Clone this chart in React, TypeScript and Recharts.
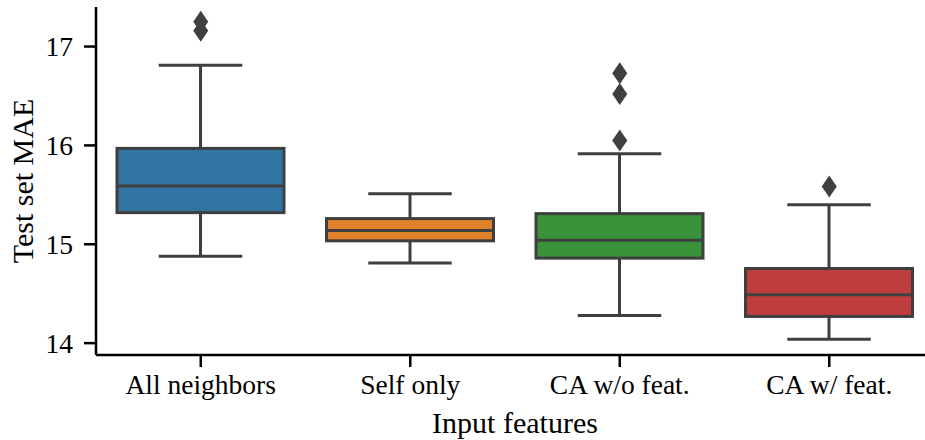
import { ComposedChart, Bar, Scatter, XAxis, YAxis } from 'recharts';

// Box statistics per input-feature setting (test set MAE)
const categories = ['All neighbors', 'Self only', 'CA w/o feat.', 'CA w/ feat.'];
const whiskerLow = [14.88, 14.81, 14.28, 14.04];
const q1 = [15.32, 15.035, 14.86, 14.27];
const medians = [15.59, 15.14, 15.04, 14.49];
const q3 = [15.97, 15.26, 15.31, 14.755];
const whiskerHigh = [16.81, 15.51, 15.915, 15.4];
const outliers = [[17.16, 17.25], [], [16.05, 16.52, 16.73], [15.585]];
const yTicks = [14, 15, 16, 17];

const palette = ['#3274a1', '#e1812c', '#3a923a', '#c03d3e'];
const LINE = '#3f3f3f';
const FONT = '"Liberation Serif", serif';
const TICK_SIZE = 27.5;
const LABEL_SIZE = 30;

const data = categories.map((name, i) => ({
  name,
  range: [whiskerLow[i], whiskerHigh[i]],
  q1: q1[i],
  median: medians[i],
  q3: q3[i],
  color: palette[i],
  out1: outliers[i][0] ?? null,
  out2: outliers[i][1] ?? null,
  out3: outliers[i][2] ?? null,
}));

// whisker-to-whisker bar; inner positions follow the same linear y scale
const BoxShape = (props: any) => {
  const { x, y, width, height, payload } = props;
  const [lo, hi] = payload.range;
  const py = (v: number) => y + ((hi - v) / (hi - lo)) * height;
  const cx = x + width / 2;
  const cap = width / 4;
  const top = py(payload.q3);
  const bottom = py(payload.q1);
  return (
    <g stroke={LINE} strokeWidth={3}>
      <line x1={cx} x2={cx} y1={py(hi)} y2={top} />
      <line x1={cx} x2={cx} y1={bottom} y2={py(lo)} />
      <line x1={cx - cap} x2={cx + cap} y1={py(hi)} y2={py(hi)} />
      <line x1={cx - cap} x2={cx + cap} y1={py(lo)} y2={py(lo)} />
      <rect x={x} y={top} width={width} height={bottom - top} fill={payload.color} />
      <line x1={x} x2={x + width} y1={py(payload.median)} y2={py(payload.median)} />
    </g>
  );
};

const Diamond = (props: any) => {
  const { cx, cy } = props;
  if (cx == null || cy == null || Number.isNaN(cy)) return <g />;
  const w = 7.5;
  const h = 11;
  return (
    <polygon
      points={`${cx},${cy - h} ${cx + w},${cy} ${cx},${cy + h} ${cx - w},${cy}`}
      fill={LINE}
    />
  );
};

export default function App() {
  return (
    <div style={{ position: 'absolute', left: 0, top: 0, width: 925, height: 440, overflow: 'hidden', background: '#fff' }}>
      <ComposedChart width={934} height={440} data={data} margin={{ top: 7, right: 0, bottom: 0, left: 0 }}>
        <XAxis
          dataKey="name"
          height={85}
          axisLine={{ stroke: '#000', strokeWidth: 2.5 }}
          tickLine={{ stroke: '#000', strokeWidth: 2.5 }}
          tickSize={12}
          tickMargin={7}
          tick={{ fill: '#000', fontSize: TICK_SIZE, fontFamily: FONT }}
          label={({ viewBox }: any) => (
            <text
              x={viewBox.x + viewBox.width / 2}
              y={viewBox.y + 78}
              textAnchor="middle"
              fill="#000"
              fontSize={LABEL_SIZE}
              fontFamily={FONT}
            >
              Input features
            </text>
          )}
        />
        <YAxis
          type="number"
          width={96}
          domain={[13.88, 17.4]}
          ticks={yTicks}
          allowDataOverflow
          axisLine={{ stroke: '#000', strokeWidth: 2.5 }}
          tickLine={{ stroke: '#000', strokeWidth: 2.5 }}
          tickSize={12}
          tickMargin={11}
          tick={{ fill: '#000', fontSize: TICK_SIZE, fontFamily: FONT }}
          label={({ viewBox }: any) => {
            const cx = viewBox.x + 22;
            const cy = viewBox.y + viewBox.height / 2;
            return (
              <text
                x={cx}
                y={cy}
                transform={`rotate(-90 ${cx} ${cy})`}
                textAnchor="middle"
                dominantBaseline="central"
                fill="#000"
                fontSize={LABEL_SIZE}
                fontFamily={FONT}
              >
                Test set MAE
              </text>
            );
          }}
        />
        <Bar dataKey="range" barSize={167} shape={BoxShape} isAnimationActive={false} />
        <Scatter dataKey="out1" shape={Diamond} isAnimationActive={false} />
        <Scatter dataKey="out2" shape={Diamond} isAnimationActive={false} />
        <Scatter dataKey="out3" shape={Diamond} isAnimationActive={false} />
      </ComposedChart>
    </div>
  );
}
